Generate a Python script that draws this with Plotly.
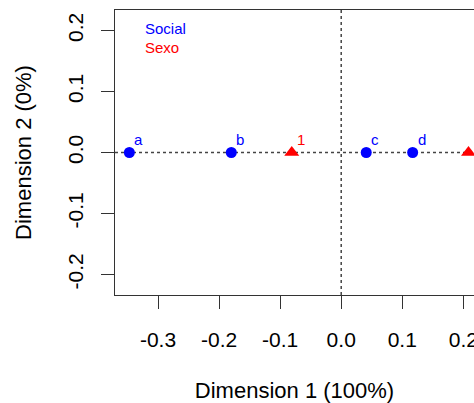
import plotly.graph_objects as go

# Data: correspondence analysis coordinates
social_labels = ["a", "b", "c", "d"]
social_x = [-0.347, -0.180, 0.041, 0.117]
social_y = [0.0, 0.0, 0.0, 0.0]

sexo_labels = ["1", "2"]
sexo_x = [-0.081, 0.2085]
sexo_y = [0.0, 0.0]

x_ticks = [-0.3, -0.2, -0.1, 0.0, 0.1, 0.2]
y_ticks = [-0.2, -0.1, 0.0, 0.1, 0.2]

BLUE = "#0000FF"
RED = "#FF0000"
FONT = "Liberation Sans, Arial, sans-serif"

fig = go.Figure()

fig.add_trace(go.Scatter(
    x=social_x, y=social_y, mode="markers",
    marker=dict(symbol="circle", size=11, color=BLUE),
    cliponaxis=False, showlegend=False, hoverinfo="skip"))
fig.add_trace(go.Scatter(
    x=sexo_x, y=sexo_y, mode="markers",
    marker=dict(symbol="triangle-up", size=13, color=RED),
    cliponaxis=False, showlegend=False, hoverinfo="skip"))

annotations = []
for lab, xv, yv in zip(social_labels, social_x, social_y):
    annotations.append(dict(x=xv, y=yv, xref="x", yref="y", text=lab, showarrow=False,
                            xanchor="left", yanchor="bottom", xshift=3, yshift=3,
                            font=dict(color=BLUE, size=15, family=FONT)))
for lab, xv, yv in zip(sexo_labels, sexo_x, sexo_y):
    annotations.append(dict(x=xv, y=yv, xref="x", yref="y", text=lab, showarrow=False,
                            xanchor="left", yanchor="bottom", xshift=3, yshift=3,
                            font=dict(color=RED, size=15, family=FONT)))

L, R, T, B = 115, 0, 10, 108
W, H = 474, 403
pw, ph = W - L - R, H - T - B

# legend as coloured text (pixel positions converted to paper coords)
legend_items = [("Social", BLUE, 28.5), ("Sexo", RED, 47.5)]
for txt, col, ypx in legend_items:
    annotations.append(dict(x=(143 - L) / pw, y=(H - ypx - B) / ph, xref="paper", yref="paper",
                            text=txt, showarrow=False, xanchor="left", yanchor="middle",
                            font=dict(color=col, size=15, family=FONT)))

fig.update_layout(
    width=W, height=H,
    margin=dict(l=L, r=R, t=T, b=B, pad=0, autoexpand=False),
    paper_bgcolor="white", plot_bgcolor="white",
    font=dict(family=FONT, size=21, color="#000000"),
    annotations=annotations,
    shapes=[
        dict(type="line", xref="paper", yref="y", x0=0, x1=1, y0=0, y1=0,
             line=dict(color="#444444", width=1.5, dash="dot"), layer="below"),
        dict(type="line", xref="x", yref="paper", x0=0, x1=0, y0=0, y1=1,
             line=dict(color="#444444", width=1.5, dash="dot"), layer="below"),
    ],
)

fig.update_xaxes(
    range=[-0.3705, 0.2175], tickvals=x_ticks, ticktext=[f"{v:.1f}" for v in x_ticks],
    showgrid=False, zeroline=False, showline=True, mirror=True, automargin=False,
    linecolor="#333333", linewidth=1, ticks="outside", ticklen=13, tickcolor="#333333",
    tickfont=dict(size=21, color="#000000"), ticklabeloverflow="allow", ticklabelstandoff=13,
    title=dict(text="Dimension 1 (100%)", font=dict(size=22, color="#000000"), standoff=32),
)
fig.update_yaxes(
    range=[-0.2336, 0.2336], tickvals=y_ticks, ticktext=[f"{v:.1f}" for v in y_ticks],
    showgrid=False, zeroline=False, showline=True, mirror=False, automargin=False,
    linecolor="#333333", linewidth=1, ticks="outside", ticklen=13, tickcolor="#333333",
    tickangle=-90, tickfont=dict(size=21, color="#000000"), ticklabelstandoff=10,
    title=dict(text="Dimension 2 (0%)", font=dict(size=22, color="#000000"), standoff=25),
)

fig.write_html("out.html")
